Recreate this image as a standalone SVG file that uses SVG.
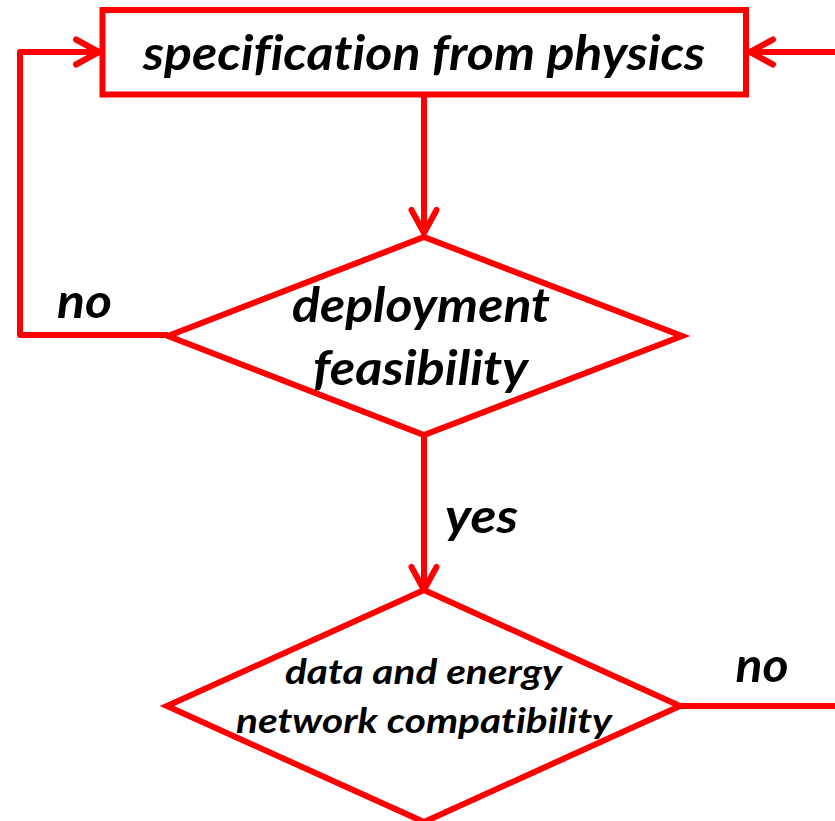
<svg xmlns="http://www.w3.org/2000/svg" width="835" height="821" viewBox="0 0 835 821">
  <style>
    .shape { fill: #ffffff; stroke: #ff0000; stroke-width: 6; stroke-linejoin: miter; }
    .conn { fill: none; stroke: #ff0000; stroke-width: 6; stroke-linejoin: round; }
    .lbl { font-family: "Lato", "Open Sans", sans-serif; font-weight: bold; font-style: italic; fill: #000000; text-anchor: middle; font-variant-ligatures: none; font-feature-settings: "liga" 0, "dlig" 0; }
    .big { font-size: 48px; }
    .small { font-size: 34px; }
  </style>
  <defs>
    <marker id="chev" markerUnits="userSpaceOnUse" viewBox="-30 -20 36 40" markerWidth="36" markerHeight="40" refX="0" refY="0" orient="auto" overflow="visible">
      <path d="M-23,-12.5 L0,0 L-23,12.5" fill="none" stroke="#ff0000" stroke-width="6" stroke-linecap="round" stroke-linejoin="round"/>
    </marker>
  </defs>
  <rect width="835" height="821" fill="#ffffff"/>

  <g id="connectors">
    <path class="conn" d="M424,97 L424,233" marker-end="url(#chev)"/>
    <path class="conn" d="M424,435 L424,590" marker-end="url(#chev)"/>
    <path class="conn" d="M168,335 L20,335 L20,52 L99,52" marker-end="url(#chev)"/>
    <path class="conn" d="M680,706 L870,706 L870,52 L750,52" marker-end="url(#chev)"/>
    <text class="lbl big" x="84.5" y="318" textLength="55" lengthAdjust="spacingAndGlyphs">no</text>
    <text class="lbl big" x="481.5" y="533" textLength="73" lengthAdjust="spacingAndGlyphs">yes</text>
    <text class="lbl big" x="762" y="682" textLength="53" lengthAdjust="spacingAndGlyphs">no</text>
  </g>

  <g id="node-spec">
    <rect class="shape" x="102.5" y="10" width="643.5" height="84.5"/>
    <text class="lbl big" x="424" y="70" textLength="562" lengthAdjust="spacingAndGlyphs">specification from physics</text>
  </g>

  <g id="node-deploy">
    <polygon class="shape" points="424,237 682,336 424,435 168,336"/>
    <text class="lbl big" x="421" y="322" textLength="258" lengthAdjust="spacingAndGlyphs">deployment</text>
    <text class="lbl big" x="420.5" y="385" textLength="215" lengthAdjust="spacingAndGlyphs">feasibility</text>
  </g>

  <g id="node-network">
    <polygon class="shape" points="424,590 680,706 424,822 167,706"/>
    <text class="lbl small" x="423.5" y="684" textLength="277" lengthAdjust="spacingAndGlyphs">data and energy</text>
    <text class="lbl small" x="424" y="733" textLength="376" lengthAdjust="spacingAndGlyphs">network compatibility</text>
  </g>
</svg>
